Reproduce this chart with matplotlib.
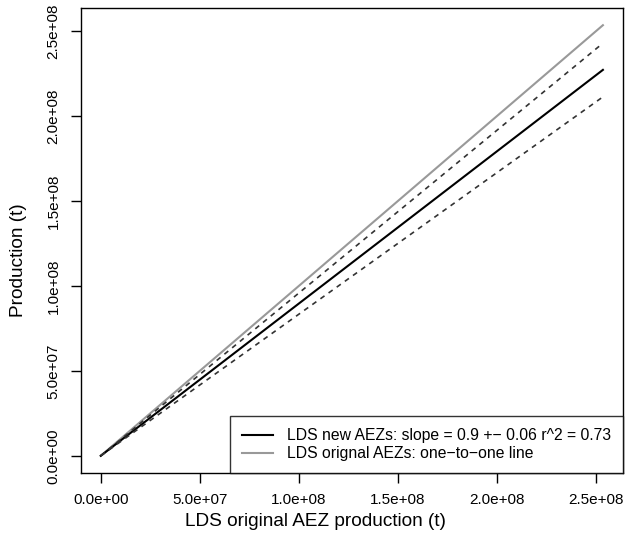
import matplotlib
matplotlib.use("Agg")
import matplotlib.pyplot as plt

plt.rcParams['font.family'] = ['Liberation Sans', 'DejaVu Sans']

# line end points (x from 0 to max original production)
x_vals = [0, 2.535e8]
one_to_one = [0, 2.535e8]
fit_line = [0, 2.272e8]
fit_upper = [0, 2.429e8]
fit_lower = [0, 2.113e8]

x_ticks = [0, 5e7, 1e8, 1.5e8, 2e8, 2.5e8]
x_tick_labels = ['0.0e+00', '5.0e+07', '1.0e+08', '1.5e+08', '2.0e+08', '2.5e+08']
y_ticks = [0, 5e7, 1e8, 1.5e8, 2e8, 2.5e8]
y_tick_labels = ['0.0e+00', '5.0e+07', '1.0e+08', '1.5e+08', '2.0e+08', '2.5e+08']

fig = plt.figure(figsize=(6.26, 5.5), dpi=100)
ax = fig.add_axes([0.1289, 0.14, 0.8663, 0.8455])

ax.plot(x_vals, one_to_one, color='#999999', lw=1.5,
        label='LDS orignal AEZs: one\u2212to\u2212one line')
ax.plot(x_vals, fit_line, color='black', lw=1.5,
        label='LDS new AEZs: slope = 0.9 +\u2212 0.06 r^2 = 0.73')
ax.plot(x_vals, fit_upper, color='#333333', lw=1.2, ls=(0, (3, 3)))
ax.plot(x_vals, fit_lower, color='#333333', lw=1.2, ls=(0, (3, 3)))

ax.margins(0.04)

ax.set_xticks(x_ticks)
ax.set_xticklabels(x_tick_labels, fontsize=11)
ax.set_yticks(y_ticks)
ax.set_yticklabels(y_tick_labels, fontsize=11, rotation=90, va='center')
ax.tick_params(direction='out', length=7.5, width=1, pad=7)

for s in ax.spines.values():
    s.set_linewidth(1)
    s.set_color('black')

# axis titles sit a bit off-centre in the original
fig.text(315 / 626, 1 - 521 / 550, 'LDS original AEZ production (t)',
         fontsize=13.7, ha='center', va='center')
fig.text(19 / 626, 1 - 260 / 550, 'Production (t)', fontsize=13.7,
         rotation=90, ha='center', va='center')

handles, labels = ax.get_legend_handles_labels()
leg = ax.legend(handles[::-1], labels[::-1], loc='lower right', fontsize=11.3,
                frameon=True, fancybox=False, borderaxespad=0,
                handlelength=2.0, handletextpad=0.9, labelspacing=0.2,
                borderpad=0.75)
leg.get_frame().set_edgecolor('black')
leg.get_frame().set_linewidth(1)

fig.savefig('out.png', dpi=100)
